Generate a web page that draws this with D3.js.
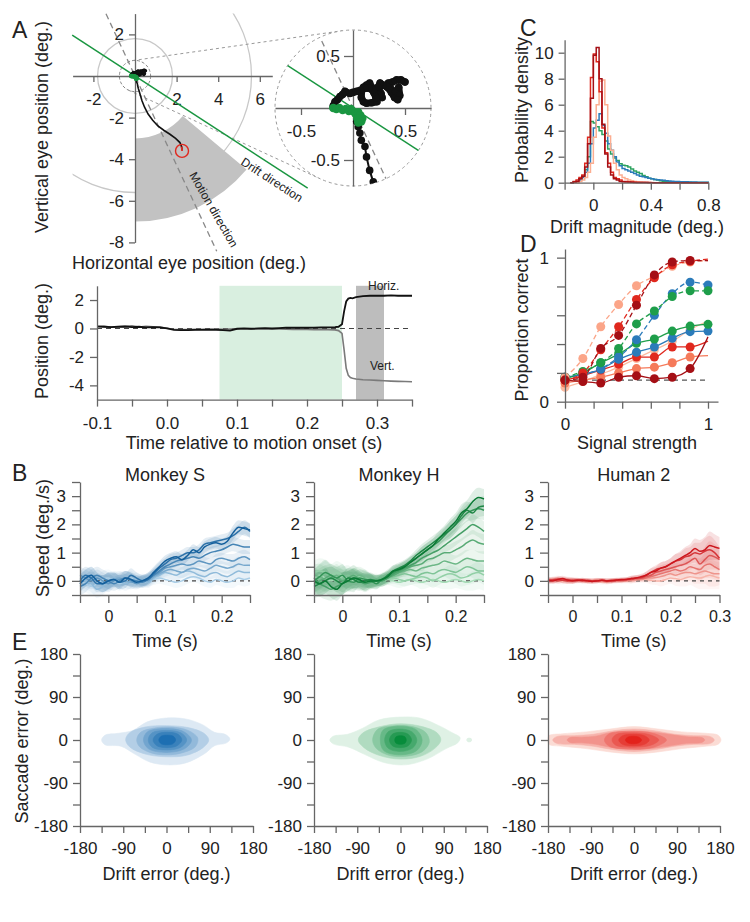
<!DOCTYPE html>
<html>
<head>
<meta charset="utf-8">
<script src="https://cdnjs.cloudflare.com/ajax/libs/d3/7.8.5/d3.min.js"></script>
<style>
body { margin: 0; background: #fff; }
svg text { font-family: "Liberation Sans", Arial, Helvetica, sans-serif; fill: #222; }
.axis path, .axis line { stroke: #666; stroke-width: 1.3; }
.axis text { font-family: "Liberation Sans", Arial, Helvetica, sans-serif; font-size: 17px; fill: #222; }
.axis.small text { font-size: 16px; }
.title { font-size: 18px; }
.letter { font-size: 23px; }
.note { font-size: 12px; }
</style>
</head>
<body>
<div id="fig"></div>
<script>
// ---------- data ----------

// A (top): eye trace in degrees
var ringRadii = [1.8, 5.6];
var motionDir = -65, driftDir = -33, wedgeHalf = 25, wedgeInner = 3, wedgeOuter = 7;
var insetRadius = 0.75;
var fixTrace = [[0.5,0.25],[0.46,0.27],[0.42,0.27],[0.38,0.25],[0.34,0.24],[0.36,0.19],[0.37,0.15],[0.4,0.1],[0.41,0.16],
  [0.44,0.2],[0.45,0.12],[0.43,0.08],[0.33,0.2],[0.29,0.22],[0.26,0.24],[0.24,0.2],[0.27,0.14],[0.28,0.1],[0.25,0.12],
  [0.21,0.14],[0.18,0.2],[0.16,0.24],[0.13,0.22],[0.1,0.2],[0.08,0.15],[0.08,0.1],[0.1,0.06],[0.13,0.045],[0.18,0.05],
  [0.23,0.06],[0.22,0.1],[0.2,0.15],[0.19,0.17],[0.15,0.19],[0.115,0.19],[0.07,0.17],[0.035,0.16],[0.0,0.15],
  [-0.03,0.14],[-0.077,0.16],[-0.1,0.13],[-0.125,0.11],[-0.15,0.08],[-0.173,0.06],[-0.19,0.02]];
var driftTrace = [[-0.19,0.0],[-0.16,-0.01],[-0.13,0.0],[-0.1,-0.02],[-0.07,-0.01],[-0.04,-0.03],[-0.02,-0.01],[0.0,-0.03],
  [0.02,-0.05],[0.05,-0.04],[0.07,-0.07],[0.09,-0.1],[0.08,-0.13],[0.06,-0.12],[0.04,-0.1],[0.05,-0.14]];
var saccTrace = [[0.035,-0.13],[0.05,-0.18],[0.066,-0.24],[0.08,-0.31],[0.115,-0.37],[0.13,-0.47],[0.16,-0.6],[0.195,-0.71],
  [0.25,-0.9],[0.34,-1.2],[0.46,-1.5],[0.63,-1.83],[0.85,-2.13],[1.1,-2.4],[1.4,-2.62],[1.68,-2.8],[1.95,-3.0],
  [2.16,-3.2],[2.24,-3.4],[2.26,-3.55]];
var saccEnd = [2.26, -3.6];

// A (bottom): position over time
var tPos = [-0.1,-0.09,-0.08,-0.07,-0.06,-0.05,-0.04,-0.03,-0.02,-0.01,
  0,0.01,0.02,0.03,0.04,0.05,0.06,0.07,0.08,0.09,
  0.1,0.11,0.12,0.13,0.14,0.15,0.16,0.17,0.18,0.19,
  0.2,0.21,0.22,0.23,0.24,
  0.245,0.25,0.253,0.256,0.259,0.262,0.265,
  0.27,0.28,0.29,0.3,0.31,0.32,0.33,0.34,0.35];
var horizPos = [0.15,0.12,0.10,0.12,0.14,0.10,0.12,0.08,0.10,0.08,
  0.0,-0.10,-0.12,-0.12,-0.10,-0.10,-0.08,-0.10,-0.12,-0.15,
  -0.02,0.0,-0.02,0.0,0.02,0.0,0.02,0.05,0.06,0.05,
  0.05,0.06,0.08,0.08,0.10,
  0.12,0.3,1.2,1.9,2.1,2.15,2.12,
  2.2,2.28,2.3,2.3,2.3,2.32,2.3,2.3,2.3];
var vertPos = [0.12,0.15,0.10,0.12,0.15,0.18,0.10,0.15,0.12,0.10,
  0.02,-0.05,-0.08,-0.08,-0.06,-0.05,-0.05,-0.04,-0.06,-0.04,
  -0.03,-0.02,-0.04,-0.03,-0.02,-0.04,-0.03,-0.05,-0.06,-0.05,
  -0.06,-0.08,-0.06,-0.08,-0.10,
  -0.15,-0.35,-1.5,-2.8,-3.3,-3.45,-3.5,
  -3.55,-3.6,-3.62,-3.65,-3.68,-3.7,-3.72,-3.73,-3.75];
var motionWindow = [0.075, 0.25];
var saccWindow = [0.27, 0.31];

// C: drift magnitude histograms (bins of 0.02 from -0.16)
var binStart = -0.16, binWidth = 0.02;
var hDarkRed = [0,0.05,0.1,0.3,0.5,1.2,3.0,6.5,9.8,10.4, 8.0,4.5,2.2,1.2,0.6,0.3,0.2,0.1,0.08,0.05,
  0.05,0.03,0.02,0.02,0.02,0.01,0.01,0,0,0, 0,0,0,0,0,0,0,0,0,0, 0,0,0,0,0,0,0,0];
var hRed = [0,0.1,0.2,0.4,0.6,1.5,3.5,8.1,9.9,9.3, 7.0,4.2,2.3,1.5,0.8,0.4,0.3,0.2,0.1,0.1,
  0.05,0.05,0.03,0.02,0.02,0.01,0.01,0.01,0,0, 0,0,0,0,0,0,0,0,0,0, 0,0,0,0,0,0,0,0];
var hSalmon = [0,0,0,0.1,0.2,0.4,0.8,1.5,3.5,6.0, 7.8,7.9,6.0,3.6,2.5,1.5,1.0,0.6,0.4,0.3,
  0.2,0.15,0.1,0.08,0.05,0.03,0.02,0.01,0.01,0, 0,0,0,0,0,0,0,0,0,0, 0,0,0,0,0,0,0,0];
var hGreen = [0,0.05,0.1,0.3,0.5,1.0,2.0,4.7,4.6,4.3, 4.0,3.7,3.2,2.6,2.2,1.9,1.7,1.45,1.35,1.3,
  1.2,1.05,0.9,0.8,0.7,0.55,0.45,0.35,0.3,0.25, 0.2,0.15,0.12,0.1,0.08,0.08,0.06,0.05,0.05,0.04,
  0.03,0.03,0.02,0.02,0.02,0.01,0.01,0.01];
var hBlue = [0,0.05,0.1,0.2,0.4,0.8,1.5,3.0,4.2,4.8, 5.3,4.4,3.8,3.0,2.5,2.0,1.6,1.3,1.1,1.0,
  0.9,0.8,0.7,0.6,0.5,0.45,0.4,0.35,0.3,0.25, 0.22,0.2,0.18,0.15,0.13,0.12,0.1,0.1,0.08,0.08,
  0.07,0.06,0.05,0.05,0.04,0.04,0.03,0.03];

// D: proportion correct by signal strength
var signalLevels = [0,0.125,0.25,0.375,0.5,0.625,0.75,0.875,1];
var chanceLevel = 0.15;
var propCorrect = [
  [0.1,0.14,0.19,0.24,0.3,0.36,0.42,0.5,0.56],
  [0.13,0.15,0.17,0.2,0.23,0.24,0.27,0.31,0.32],
  [0.15,0.18,0.22,0.26,0.31,0.31,0.38,0.38,0.42],
  [0.15,0.14,0.13,0.17,0.18,0.16,0.17,0.23,0.45],
  [0.17,0.19,0.225,0.294,0.343,0.38,0.44,0.486,0.49],
  [0.16,0.2,0.27,0.33,0.405,0.435,0.49,0.525,0.537],
  [0.17,0.19,0.23,0.31,0.43,0.60,0.75,0.83,0.81],
  [0.17,0.21,0.27,0.37,0.54,0.63,0.73,0.77,0.77],
  [0.17,0.30,0.52,0.675,0.805,0.87,0.94,0.97,0.98],
  [0.15,0.2,0.36,0.52,0.71,0.86,0.95,0.975,0.99],
  [0.15,0.17,0.37,0.46,0.67,0.88,0.97,0.98,0.98]
];
var pcDots = [8,8,8,8,9,9,9,9,8,8,8];

// B: speed traces
var tMonkey = [-0.05,-0.04,-0.03,-0.02,-0.01,0,0.01,0.02,0.03,0.04,0.05,0.06,0.07,0.08,0.09,0.1,
  0.11,0.12,0.13,0.14,0.15,0.16,0.17,0.18,0.19,0.2,0.21,0.22,0.23,0.24,0.25];
var tHuman = [-0.05,-0.04,-0.03,-0.02,-0.01,0,0.01,0.02,0.03,0.04,0.05,0.06,0.07,0.08,0.09,0.1,
  0.11,0.12,0.13,0.14,0.15,0.16,0.17,0.18,0.19,0.2,0.21,0.22,0.23,0.24,0.25,0.26,0.27,0.28,0.29,0.3];
var speedS = [
  [0.0,-0.1,-0.2,-0.1,0.05,0.1,0.0,-0.1,0.0,0.1, 0.0,-0.05,0.0,0.05,0.1,0.05,0.0,-0.05,0.0,0.1, 0.15,0.1,0.0,-0.05,0.05,0.0,-0.05,0.0,0.1,0.05, 0.1],
  [0.1,0.0,-0.1,-0.3,-0.2,0.0,0.1,0.0,-0.1,0.0, 0.1,0.0,-0.05,0.1,0.2,0.3,0.25,0.2,0.3,0.35, 0.3,0.2,0.15,0.25,0.3,0.2,0.15,0.25,0.35,0.3, 0.3],
  [-0.1,0.1,0.2,0.0,-0.1,-0.05,0.05,0.1,0.0,-0.05, 0.0,0.05,0.0,0.15,0.25,0.35,0.4,0.35,0.3,0.4, 0.45,0.4,0.35,0.45,0.55,0.5,0.45,0.5,0.6,0.55, 0.55],
  [0.2,0.1,0.0,0.1,0.0,-0.1,0.0,0.05,0.1,0.0, -0.1,0.0,0.1,0.2,0.3,0.45,0.5,0.55,0.6,0.55, 0.6,0.7,0.65,0.6,0.75,0.8,0.75,0.7,0.8,0.85, 0.75],
  [-0.2,-0.1,0.1,0.2,0.1,0.0,-0.1,0.0,0.1,0.05, 0.0,-0.05,0.05,0.2,0.35,0.5,0.6,0.7,0.75,0.8, 0.85,0.8,0.9,1.0,1.05,1.1,1.2,1.3,1.25,1.2, 1.2],
  [0.0,0.2,0.1,-0.1,-0.1,0.0,0.05,-0.05,0.0,0.2, 0.1,0.0,0.05,0.25,0.45,0.6,0.75,0.8,0.9,1.0, 1.0,1.1,1.3,1.35,1.4,1.45,1.5,1.6,1.75,1.9, 1.75],
  [-0.1,0.1,0.2,0.0,-0.1,0.0,0.05,-0.05,0.1,0.05, -0.05,0.0,0.1,0.3,0.5,0.7,0.8,0.85,0.75,0.9, 1.1,1.0,1.2,1.3,1.35,1.3,1.4,1.7,1.9,1.85, 1.8]
];
var speedH = [
  [0.1,0.2,0.1,0.0,0.1,0.15,0.05,0.0,0.1,0.05, 0.0,-0.05,0.0,0.05,0.0,-0.05,0.0,0.05,0.0,-0.05, 0.0,0.05,0.0,-0.05,0.0,0.05,0.0,-0.05,0.0,0.05, 0.0],
  [0.3,0.35,0.3,0.2,0.3,0.2,0.1,0.2,0.15,0.1, 0.0,-0.05,0.0,0.05,0.1,0.05,0.0,0.05,0.1,0.15, 0.1,0.0,0.1,0.2,0.25,0.2,0.1,0.15,0.25,0.3, 0.2],
  [0.0,0.1,0.25,0.15,0.0,0.1,0.2,0.05,0.0,0.1, 0.0,-0.1,0.05,0.1,0.15,0.2,0.25,0.2,0.15,0.25, 0.3,0.25,0.35,0.4,0.35,0.3,0.4,0.5,0.45,0.35, 0.35],
  [0.2,0.15,0.05,0.1,0.2,0.0,-0.05,0.1,0.2,0.1, -0.05,0.0,0.1,0.15,0.2,0.3,0.35,0.4,0.35,0.45, 0.5,0.55,0.6,0.7,0.65,0.6,0.7,0.8,0.75,0.7, 0.7],
  [-0.1,0.0,0.1,0.2,0.1,0.0,0.1,0.2,0.05,-0.05, 0.0,0.05,0.0,0.1,0.2,0.3,0.4,0.5,0.55,0.6, 0.75,0.8,0.9,1.0,1.0,1.1,1.2,1.35,1.45,1.35, 1.3],
  [0.1,-0.1,-0.2,-0.3,-0.2,-0.1,0.0,0.1,0.0,-0.1, -0.05,0.0,0.0,0.1,0.25,0.35,0.45,0.55,0.65,0.8, 0.9,1.0,1.1,1.25,1.4,1.55,1.7,1.85,2.0,1.9, 1.75],
  [0.0,0.15,0.3,0.2,0.1,0.2,0.0,-0.05,0.1,0.05, 0.0,-0.1,0.05,0.15,0.3,0.4,0.5,0.65,0.8,0.95, 1.1,1.25,1.4,1.6,1.8,2.0,2.2,2.4,2.5,2.55, 2.5],
  [-0.2,-0.1,0.0,0.1,0.0,-0.1,0.1,0.05,-0.05,0.0, 0.05,0.0,0.05,0.2,0.35,0.45,0.55,0.7,0.9,1.05, 1.2,1.35,1.5,1.65,1.8,2.0,2.3,2.5,2.4,2.6, 2.65],
  [0.0,-0.1,0.0,-0.2,-0.3,-0.1,0.0,0.1,0.05,-0.05, 0.0,0.0,0.05,0.15,0.35,0.4,0.5,0.65,0.8,0.95, 1.1,1.25,1.5,1.7,1.9,2.1,2.4,2.55,2.8,2.95, 2.9]
];
var speedR = [
  [0.0,0.05,0.0,-0.02,0.0,0.02,0.0,-0.02,0.0,0.02, 0.0,-0.05,0.0,0.02,0.0,0.0,0.02,0.0,0.03,0.05, 0.05,0.02,0.0,0.0,0.05,0.1,0.08,0.05,0.1,0.15, 0.12,0.1,0.15,0.2,0.15,0.1],
  [0.05,0.0,0.05,0.02,0.0,0.0,0.03,0.0,-0.03,0.0, 0.03,0.0,-0.05,0.0,0.02,0.0,0.0,0.02,0.05,0.05, 0.1,0.1,0.12,0.15,0.2,0.25,0.2,0.25,0.3,0.3, 0.25,0.3,0.35,0.3,0.25,0.25],
  [0.0,0.05,0.08,0.05,0.0,0.0,0.02,0.03,0.0,0.0, 0.02,0.0,-0.02,0.0,0.03,0.0,0.02,0.05,0.05,0.08, 0.1,0.15,0.2,0.25,0.3,0.35,0.4,0.35,0.4,0.5, 0.45,0.4,0.55,0.6,0.5,0.4],
  [0.05,0.02,0.0,0.03,0.05,0.02,0.0,0.02,0.0,-0.02, 0.0,0.02,0.0,-0.02,0.0,0.02,0.05,0.05,0.1,0.1, 0.15,0.2,0.3,0.35,0.4,0.45,0.5,0.55,0.6,0.7, 0.8,0.6,0.75,0.9,0.85,0.75],
  [0.0,0.03,0.05,0.02,0.0,0.02,0.03,0.0,0.02,0.0, 0.0,0.02,0.0,0.0,0.02,0.03,0.05,0.08,0.1,0.12, 0.2,0.3,0.4,0.45,0.5,0.6,0.7,0.75,0.85,0.9, 1.0,0.95,1.05,1.1,1.0,0.8],
  [0.02,0.0,0.05,0.08,0.03,0.0,0.02,0.03,0.0,-0.02, 0.0,0.02,0.0,0.02,0.03,0.05,0.05,0.08,0.1,0.15, 0.2,0.3,0.35,0.45,0.5,0.6,0.7,0.8,0.9,1.0, 1.15,1.05,1.1,1.25,1.2,1.15]
];
var bandS = [0.3,0.3,0.3,0.3,0.3,0.3,0.25,0.25,0.25,0.25, 0.2,0.2,0.2,0.2,0.2,0.2,0.2,0.2,0.2,0.2, 0.2,0.2,0.2,0.2,0.2,0.2,0.2,0.25,0.25,0.25, 0.25];
var bandH = [0.4,0.45,0.45,0.4,0.4,0.4,0.35,0.35,0.3,0.3, 0.25,0.2,0.2,0.2,0.2,0.2,0.2,0.2,0.2,0.25, 0.25,0.25,0.25,0.25,0.3,0.3,0.3,0.3,0.35,0.35, 0.35];
var bandR = [0.1,0.1,0.1,0.1,0.1,0.1,0.08,0.08,0.08,0.08, 0.08,0.08,0.08,0.08,0.08,0.08,0.08,0.1,0.1,0.1, 0.12,0.15,0.15,0.2,0.2,0.2,0.25,0.25,0.3,0.3, 0.35,0.4,0.45,0.5,0.45,0.4];

// E: density contours (drift error, saccade error) in degrees, outer to inner
var contBlue = [
  [[-135,0],[-128,10],[-100,14],[-70,20],[-40,38],[0,46],[40,44],[75,32],[100,16],[122,12],[132,2],[125,-6],[100,-12],[80,-28],[40,-48],[0,-52],[-35,-46],[-65,-30],[-95,-13],[-128,-10]],
  [[-85,0],[-78,14],[-45,27],[0,30],[45,26],[78,14],[88,0],[76,-16],[42,-32],[0,-35],[-42,-30],[-76,-15]],
  [[-62,0],[-54,16],[-25,25],[10,27],[45,20],[65,4],[60,-14],[32,-27],[0,-31],[-32,-27],[-56,-14]],
  [[-48,0],[-40,17],[-5,24],[35,18],[52,0],[38,-18],[0,-26],[-38,-18]],
  [[-38,0],[-30,15],[0,20],[30,15],[42,0],[30,-15],[0,-21],[-30,-15]],
  [[-28,0],[-20,12],[2,16],[24,12],[32,0],[22,-12],[2,-16],[-20,-12]],
  [[-16,0],[-11,8],[2,10],[14,8],[19,0],[13,-8],[2,-10],[-11,-8]]
];
var contGreen = [
  [[-147,0],[-140,8],[-110,12],[-80,24],[-45,42],[0,48],[40,46],[80,30],[108,15],[124,5],[120,-5],[95,-18],[55,-40],[10,-52],[-35,-47],[-75,-30],[-108,-15],[-140,-8]],
  [[-88,0],[-78,15],[-42,28],[0,34],[45,28],[76,15],[84,0],[72,-17],[42,-34],[0,-40],[-45,-32],[-76,-16]],
  [[-58,0],[-48,22],[-12,30],[25,28],[52,16],[60,-4],[46,-24],[12,-34],[-24,-32],[-50,-18]],
  [[-42,0],[-36,21],[-2,29],[32,22],[45,0],[34,-22],[0,-31],[-35,-22]],
  [[-33,0],[-26,17],[-2,23],[24,17],[34,0],[25,-17],[-2,-24],[-26,-17]],
  [[-23,0],[-17,12],[-1,16],[16,12],[23,0],[16,-12],[-1,-16],[-17,-12]],
  [[-12,0],[-9,7],[0,9],[9,7],[12,0],[9,-7],[0,-9],[-9,-7]]
];
var contGreenIsland = [[137,0],[140,4],[146,4],[149,0],[146,-4],[140,-4]];
var contRed = [
  [[-180,0],[-178,9],[-150,13],[-100,17],[-50,23],[0,28],[50,23],[100,17],[150,14],[176,10],[182,0],[176,-9],[150,-13],[100,-18],[50,-25],[0,-29],[-50,-25],[-100,-18],[-150,-13],[-178,-9]],
  [[-170,0],[-162,7],[-125,9],[-85,12],[-45,19],[0,23],[45,19],[85,12],[125,9],[160,7],[168,0],[160,-7],[125,-9],[85,-13],[45,-20],[0,-24],[-45,-20],[-85,-13],[-125,-9],[-162,-7]],
  [[-140,0],[-134,5],[-110,6],[-80,8],[-50,15],[0,19],[50,15],[110,7],[142,5],[148,0],[142,-5],[110,-7],[50,-16],[0,-20],[-50,-15],[-80,-9],[-110,-6],[-134,-5]],
  [[-62,0],[-52,13],[-10,18],[40,14],[68,0],[42,-15],[-10,-19],[-52,-13]],
  [[-46,0],[-38,11],[-5,15],[33,11],[52,0],[35,-11],[-5,-15],[-38,-11]],
  [[-32,0],[-24,9],[-2,12],[22,9],[32,0],[22,-9],[-2,-12],[-24,-9]],
  [[-18,0],[-13,6],[-2,8],[10,6],[16,0],[10,-6],[-2,-8],[-13,-6]]
];

// ---------- helpers ----------
var svg = d3.select("#fig").append("svg").attr("width", 750).attr("height", 922);
var defs = svg.append("defs");
var rad = Math.PI / 180;
var minus = function(s) { return String(s).replace("\u2212", "-"); };
var fmt1 = function(d) { return minus(d3.format(".1f")(d)); };

function addAxis(g, gen, tx, ty, cls) {
  return g.append("g").attr("class", "axis" + (cls ? " " + cls : ""))
    .attr("transform", "translate(" + tx + "," + ty + ")").call(gen);
}
function label(txt, x, y, cls, rot) {
  var t = svg.append("text").attr("class", cls || "title").attr("text-anchor", "middle").text(txt);
  if (rot) t.attr("transform", "translate(" + x + "," + y + ") rotate(" + rot + ")");
  else t.attr("x", x).attr("y", y);
  return t;
}
function letter(txt, x, y) {
  svg.append("text").attr("class", "letter").attr("x", x).attr("y", y).text(txt);
}

// ---------- A top: eye position ----------
var ox = 135, oy = 76, kA = 20.8;
var xA = d3.scaleLinear().domain([-3, 6.6]).range([ox - 3 * kA, ox + 6.6 * kA]);
var yA = d3.scaleLinear().domain([-8, 3]).range([oy + 8 * kA, oy - 3 * kA]);
defs.append("clipPath").attr("id", "clipA").append("rect")
  .attr("x", xA(-3)).attr("y", yA(3)).attr("width", xA(6.6) - xA(-3)).attr("height", yA(-8) - yA(3));

var gA = svg.append("g");
var gAc = gA.append("g").attr("clip-path", "url(#clipA)");
ringRadii.forEach(function(r) {
  gAc.append("circle").attr("cx", xA(0)).attr("cy", yA(0)).attr("r", xA(r) - xA(0))
    .attr("fill", "none").attr("stroke", "#c8c8c8").attr("stroke-width", 1.3);
});
gA.append("path")
  .attr("transform", "translate(" + xA(0) + "," + yA(0) + ")")
  .attr("d", d3.arc()({
    innerRadius: xA(wedgeInner) - xA(0), outerRadius: xA(wedgeOuter) - xA(0),
    startAngle: (90 - (motionDir + wedgeHalf)) * rad, endAngle: (90 - (motionDir - wedgeHalf)) * rad
  }))
  .attr("fill", "#c2c2c2");

// magnified region and its connectors
var insetCx = 353, insetCy = 108, insetR = 78;
var r1 = xA(insetRadius) - xA(0);
gA.append("circle").attr("cx", xA(0)).attr("cy", yA(0)).attr("r", r1)
  .attr("fill", "none").attr("stroke", "#888").attr("stroke-dasharray", "3,2").attr("stroke-width", 1);
(function() {
  var dx = insetCx - xA(0), dy = insetCy - yA(0), d = Math.hypot(dx, dy);
  var a = Math.atan2(dy, dx), phi = Math.acos((insetR - r1) / d);
  [a + phi, a - phi].forEach(function(ang) {
    var nx = Math.cos(ang), ny = Math.sin(ang);
    gA.append("line")
      .attr("x1", xA(0) - r1 * nx).attr("y1", yA(0) - r1 * ny)
      .attr("x2", insetCx - insetR * nx).attr("y2", insetCy - insetR * ny)
      .attr("stroke", "#999").attr("stroke-dasharray", "3,3").attr("stroke-width", 1);
  });
})();

addAxis(gA, d3.axisBottom(xA).tickValues([-2, 2, 4, 6]).tickFormat(minus).tickSize(6).tickPadding(11).tickSizeOuter(0), 0, yA(0));
addAxis(gA, d3.axisLeft(yA).tickValues([2, -2, -4, -6, -8]).tickFormat(minus).tickSize(6).tickPadding(5).tickSizeOuter(0), xA(0), 0);

function dirLine(g, x, y, ang, r0, r1, color, dash, w) {
  var c = Math.cos(ang * rad), s = Math.sin(ang * rad);
  g.append("line")
    .attr("x1", x(r0 * c)).attr("y1", y(r0 * s)).attr("x2", x(r1 * c)).attr("y2", y(r1 * s))
    .attr("stroke", color).attr("stroke-width", w).attr("stroke-dasharray", dash);
}
dirLine(gA, xA, yA, motionDir, -3.3, 9.3, "#888", "6,4", 1.3);
dirLine(gA, xA, yA, driftDir, -3.6, 9.9, "#1a9641", null, 1.5);

gA.append("text").attr("class", "note").attr("transform", "translate(240,164) rotate(33)").text("Drift direction");
gA.append("text").attr("class", "note").attr("transform", "translate(189,175) rotate(60)").text("Motion direction");

var lineA = d3.line().x(function(d) { return xA(d[0]); }).y(function(d) { return yA(d[1]); });
gA.append("path").attr("d", lineA(fixTrace.concat(driftTrace, saccTrace)))
  .attr("fill", "none").attr("stroke", "#111").attr("stroke-width", 1.6);
gA.selectAll(".fixdot").data(fixTrace).enter().append("circle")
  .attr("cx", function(d) { return xA(d[0]); }).attr("cy", function(d) { return yA(d[1]); })
  .attr("r", 1.8).attr("fill", "#111");
gA.selectAll(".driftdot").data(driftTrace).enter().append("circle")
  .attr("cx", function(d) { return xA(d[0]); }).attr("cy", function(d) { return yA(d[1]); })
  .attr("r", 2.2).attr("fill", "#1a9641");
gA.append("path").attr("d", lineA(saccTrace.slice(-2).concat([saccEnd])))
  .attr("fill", "none").attr("stroke", "#e0281e").attr("stroke-width", 1.8);
gA.append("circle").attr("cx", xA(saccEnd[0])).attr("cy", yA(saccEnd[1])).attr("r", 6.5)
  .attr("fill", "none").attr("stroke", "#e0281e").attr("stroke-width", 1.4);

// inset (magnified view of the fixation region)
var gI = svg.append("g").attr("transform", "translate(" + insetCx + "," + insetCy + ")");
var xI = d3.scaleLinear().domain([-insetRadius, insetRadius]).range([-insetR, insetR]);
var yI = d3.scaleLinear().domain([-insetRadius, insetRadius]).range([insetR, -insetR]);
defs.append("clipPath").attr("id", "clipI").append("circle").attr("cx", 0).attr("cy", 0).attr("r", insetR);
gI.append("circle").attr("r", insetR).attr("fill", "#fff").attr("stroke", "#999")
  .attr("stroke-dasharray", "3,3").attr("stroke-width", 1);
addAxis(gI, d3.axisBottom(xI).tickValues([-0.5, 0.5]).tickFormat(minus).tickSize(7).tickPadding(10).tickSizeOuter(0), 0, yI(0));
addAxis(gI, d3.axisLeft(yI).tickValues([0.5, -0.5]).tickFormat(minus).tickSize(9).tickPadding(4).tickSizeOuter(0), xI(0), 0);
var gIc = gI.append("g").attr("clip-path", "url(#clipI)");
dirLine(gIc, xI, yI, motionDir, -1, 1, "#888", "6,4", 1.3);
dirLine(gIc, xI, yI, driftDir, -1, 1, "#1a9641", null, 1.5);
var lineI = d3.line().x(function(d) { return xI(d[0]); }).y(function(d) { return yI(d[1]); });
gIc.append("path").attr("d", lineI(fixTrace)).attr("fill", "none").attr("stroke", "#111")
  .attr("stroke-width", 7).attr("stroke-linejoin", "round").attr("stroke-linecap", "round");
gIc.append("path").attr("d", lineI(fixTrace.slice(-1).concat(driftTrace, saccTrace)))
  .attr("fill", "none").attr("stroke", "#111").attr("stroke-width", 2);
gIc.selectAll(".ifix").data(fixTrace.concat(saccTrace)).enter().append("circle")
  .attr("cx", function(d) { return xI(d[0]); }).attr("cy", function(d) { return yI(d[1]); })
  .attr("r", 3.8).attr("fill", "#111");
gIc.selectAll(".idrift").data(driftTrace).enter().append("circle")
  .attr("cx", function(d) { return xI(d[0]); }).attr("cy", function(d) { return yI(d[1]); })
  .attr("r", 4.2).attr("fill", "#1a9641");

letter("A", 12, 38);
label("Vertical eye position (deg.)", 48, 127, "title", -90);
label("Horizontal eye position (deg.)", 189, 269);

// ---------- A bottom: position vs time ----------
var xT = d3.scaleLinear().domain([-0.1, 0.35]).range([97, 412]);
var yP = d3.scaleLinear().domain([-5, 3]).range([399.6, 285.8]);
var gP = svg.append("g");
gP.append("rect").attr("x", xT(motionWindow[0])).attr("width", xT(motionWindow[1]) - xT(motionWindow[0]))
  .attr("y", yP(3)).attr("height", yP(-5) - yP(3)).attr("fill", "#d9efe0");
gP.append("rect").attr("x", xT(saccWindow[0])).attr("width", xT(saccWindow[1]) - xT(saccWindow[0]))
  .attr("y", yP(3)).attr("height", yP(-5) - yP(3)).attr("fill", "#bdbdbd");
gP.append("line").attr("x1", xT(-0.1)).attr("x2", xT(0.35)).attr("y1", yP(0)).attr("y2", yP(0))
  .attr("stroke", "#444").attr("stroke-dasharray", "5,4").attr("stroke-width", 1.2);
var lineP = function(vals) {
  return d3.line().x(function(d, i) { return xT(tPos[i]); }).y(function(d) { return yP(d); })(vals);
};
gP.append("path").attr("d", lineP(vertPos)).attr("fill", "none").attr("stroke", "#7a7a7a").attr("stroke-width", 1.6);
gP.append("path").attr("d", lineP(horizPos)).attr("fill", "none").attr("stroke", "#111").attr("stroke-width", 1.8);
addAxis(gP, d3.axisBottom(xT).tickValues([-0.1, -0.05, 0, 0.05, 0.1, 0.15, 0.2, 0.25, 0.3, 0.35])
  .tickFormat(function(d) { return Math.round(d * 100) % 10 === 0 ? fmt1(d) : ""; })
  .tickSize(7).tickPadding(10).tickSizeOuter(0), 0, yP(-5));
addAxis(gP, d3.axisLeft(yP).tickValues([2, 0, -2, -4]).tickFormat(minus).tickSize(7).tickPadding(6).tickSizeOuter(0), xT(-0.1), 0);
gP.append("text").attr("class", "note").attr("x", 368).attr("y", 290).attr("font-size", "11px").text("Horiz.");
gP.append("text").attr("class", "note").attr("x", 370).attr("y", 370).attr("font-size", "11px").text("Vert.");
label("Position (deg.)", 48, 341, "title", -90);
label("Time relative to motion onset (s)", 254, 449);

// ---------- C: histograms ----------
var xC = d3.scaleLinear().domain([-0.2, 0.8]).range([564.6, 708.3]);
var yC = d3.scaleLinear().domain([0, 11]).range([182.7, 39.7]);
var gC = svg.append("g");
var histLine = d3.line().curve(d3.curveStepAfter)
  .x(function(d) { return xC(d[0]); }).y(function(d) { return yC(d[1]); });
function histPoints(vals) {
  var pts = [[binStart, 0]];
  vals.forEach(function(v, i) { pts.push([binStart + i * binWidth, v]); });
  pts.push([binStart + vals.length * binWidth, 0]);
  return pts;
}
[[hGreen, "#2ca25f"], [hBlue, "#2b7bba"], [hSalmon, "#fcae91"], [hRed, "#e0281e"], [hDarkRed, "#a50f15"]]
  .forEach(function(h) {
    gC.append("path").attr("d", histLine(histPoints(h[0]))).attr("fill", "none")
      .attr("stroke", h[1]).attr("stroke-width", 1.5);
  });
addAxis(gC, d3.axisBottom(xC).tickValues([-0.2, 0, 0.2, 0.4, 0.6, 0.8])
  .tickFormat(function(d) { return (d === 0 || d === 0.4 || d === 0.8) ? String(d) : ""; })
  .tickSize(7).tickPadding(9).tickSizeOuter(0), 0, yC(0));
addAxis(gC, d3.axisLeft(yC).tickValues([0, 2, 4, 6, 8, 10]).tickSize(6).tickPadding(5).tickSizeOuter(0), xC(-0.2), 0);
letter("C", 520, 36);
label("Probability density", 528, 110, "title", -90);
label("Drift magnitude (deg.)", 637, 233);

// ---------- D: psychometric ----------
var xD = d3.scaleLinear().domain([0, 1.07]).range([565, 718]);
var yD = d3.scaleLinear().domain([0, 1.06]).range([401.7, 249]);
var pcColors = ["#fcbba1", "#f57a5a", "#e0281e", "#a50f15", "#2b7bba", "#1e9e4a",
  "#2b7bba", "#1e9e4a", "#fba588", "#e0281e", "#a50f15"];
var pcDashed = [false, false, false, false, false, false, true, true, true, true, true];
var gD = svg.append("g");
gD.append("line").attr("x1", xD(0)).attr("x2", xD(1)).attr("y1", yD(chanceLevel)).attr("y2", yD(chanceLevel))
  .attr("stroke", "#555").attr("stroke-dasharray", "5,4").attr("stroke-width", 1.2);
var lineD = d3.line().curve(d3.curveMonotoneX)
  .x(function(d, i) { return xD(signalLevels[i]); }).y(function(d) { return yD(d); });
propCorrect.forEach(function(vals, k) {
  gD.append("path").attr("d", lineD(vals)).attr("fill", "none").attr("stroke", pcColors[k])
    .attr("stroke-width", 1.3).attr("stroke-dasharray", pcDashed[k] ? "5,3" : null);
});
propCorrect.forEach(function(vals, k) {
  gD.selectAll(null).data(vals.slice(0, pcDots[k])).enter().append("circle")
    .attr("cx", function(d, i) { return xD(signalLevels[i]); }).attr("cy", function(d) { return yD(d); })
    .attr("r", 4.5).attr("fill", pcColors[k]);
});
addAxis(gD, d3.axisBottom(xD).tickValues([0, 0.2, 0.4, 0.6, 0.8, 1])
  .tickFormat(function(d) { return (d === 0 || d === 1) ? String(d) : ""; })
  .tickSize(7).tickPadding(9).tickSizeOuter(0), 0, yD(0));
addAxis(gD, d3.axisLeft(yD).tickValues([0, 0.2, 0.4, 0.6, 0.8, 1])
  .tickFormat(function(d) { return (d === 0 || d === 1) ? String(d) : ""; })
  .tickSize(8).tickPadding(8).tickSizeOuter(0), xD(0), 0);
letter("D", 520, 252);
label("Proportion correct", 528, 330, "title", -90);
label("Signal strength", 637, 449);

// ---------- B: speed ----------
var bPanels = [
  { title: "Monkey S", range: [80, 250], dom: [-0.05, 0.25], t: tMonkey, lines: speedS, band: bandS,
    lo: "#a9cde6", hi: "#135f9c", ticks: [-0.05, 0, 0.05, 0.1, 0.15, 0.2, 0.25] },
  { title: "Monkey H", range: [314, 484], dom: [-0.05, 0.25], t: tMonkey, lines: speedH, band: bandH,
    lo: "#a6dcb7", hi: "#0b7a35", ticks: [-0.05, 0, 0.05, 0.1, 0.15, 0.2, 0.25] },
  { title: "Human 2", range: [548, 719.5], dom: [-0.05, 0.3], t: tHuman, lines: speedR, band: bandR,
    lo: "#f7b3a8", hi: "#cc161d", ticks: [-0.05, 0, 0.05, 0.1, 0.15, 0.2, 0.25, 0.3] }
];
bPanels.forEach(function(p) {
  var xs = d3.scaleLinear().domain(p.dom).range(p.range);
  var ys = d3.scaleLinear().domain([-0.5, 3.5]).range([595, 482]);
  var g = svg.append("g");
  var n = p.lines.length;
  var col = function(i) { return d3.interpolateRgb(p.lo, p.hi)(i / (n - 1)); };
  p.lines.forEach(function(vals, i) {
    var area = d3.area().curve(d3.curveMonotoneX)
      .x(function(d, j) { return xs(p.t[j]); })
      .y0(function(d, j) { return ys(d - p.band[j]); })
      .y1(function(d, j) { return ys(d + p.band[j]); });
    g.append("path").attr("d", area(vals)).attr("fill", col(i)).attr("fill-opacity", 0.13);
  });
  g.append("line").attr("x1", xs(p.dom[0])).attr("x2", xs(p.dom[1])).attr("y1", ys(0)).attr("y2", ys(0))
    .attr("stroke", "#444").attr("stroke-dasharray", "4,4").attr("stroke-width", 1.2);
  p.lines.forEach(function(vals, i) {
    var line = d3.line().curve(d3.curveMonotoneX)
      .x(function(d, j) { return xs(p.t[j]); }).y(function(d) { return ys(d); });
    g.append("path").attr("d", line(vals)).attr("fill", "none").attr("stroke", col(i)).attr("stroke-width", 1.5);
  });
  addAxis(g, d3.axisBottom(xs).tickValues(p.ticks)
    .tickFormat(function(d) { return Math.round(d * 100) % 10 === 0 ? (d === 0 ? "0" : String(+d.toFixed(1))) : ""; })
    .tickSize(8).tickPadding(8).tickSizeOuter(0), 0, 595, "small");
  addAxis(g, d3.axisLeft(ys).tickValues([-0.5, 0, 0.5, 1, 1.5, 2, 2.5, 3, 3.5])
    .tickFormat(function(d) { return Number.isInteger(d) ? String(d) : ""; })
    .tickSize(8).tickPadding(6).tickSizeOuter(0), p.range[0], 0);
  label(p.title, (p.range[0] + p.range[1]) / 2, 481);
  label("Time (s)", (p.range[0] + p.range[1]) / 2, 647);
});
letter("B", 12, 481);
label("Speed (deg./s)", 49, 538, "title", -90);

// ---------- E: error densities ----------
var ePanels = [
  { range: [80, 253], levels: contBlue, lo: "#dde9f4", hi: "#1d6fb2", extra: [] },
  { range: [314, 487], levels: contGreen, lo: "#dff1e5", hi: "#078c3b", extra: [contGreenIsland] },
  { range: [548, 720], levels: contRed, lo: "#fbdcd5", hi: "#e3221b", extra: [] }
];
ePanels.forEach(function(p) {
  var xs = d3.scaleLinear().domain([-180, 180]).range(p.range);
  var ys = d3.scaleLinear().domain([-180, 180]).range([826, 654]);
  var g = svg.append("g");
  var n = p.levels.length;
  var ring = d3.line().curve(d3.curveCatmullRomClosed.alpha(0.5))
    .x(function(d) { return xs(d[0]); }).y(function(d) { return ys(d[1]); });
  p.levels.forEach(function(pts, i) {
    var c = d3.interpolateRgb(p.lo, p.hi)(Math.pow(i / (n - 1), 0.85));
    g.append("path").attr("d", ring(pts)).attr("fill", c).attr("stroke", c).attr("stroke-width", 0.6);
  });
  p.extra.forEach(function(pts) {
    g.append("path").attr("d", ring(pts)).attr("fill", p.lo);
  });
  var ticks = [-180, -135, -90, -45, 0, 45, 90, 135, 180];
  var f = function(d) { return d % 90 === 0 ? String(d) : ""; };
  addAxis(g, d3.axisBottom(xs).tickValues(ticks).tickFormat(f).tickSize(7).tickPadding(9).tickSizeOuter(0), 0, 826);
  addAxis(g, d3.axisLeft(ys).tickValues(ticks).tickFormat(f).tickSize(7).tickPadding(5).tickSizeOuter(0), p.range[0], 0);
  label("Drift error (deg.)", (p.range[0] + p.range[1]) / 2, 880);
});
letter("E", 12, 650);
label("Saccade error (deg.)", 28, 741, "title", -90);
</script>
</body>
</html>
